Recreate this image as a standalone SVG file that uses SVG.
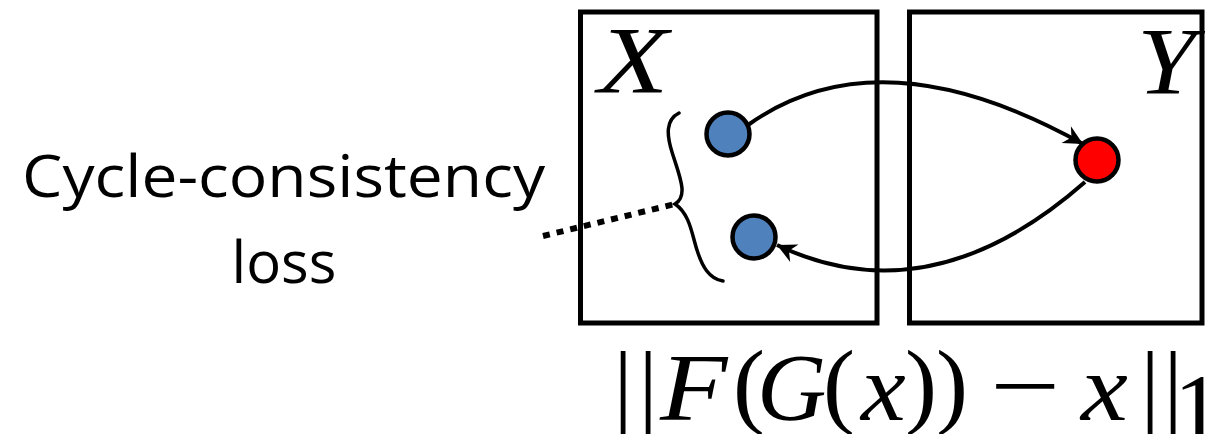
<svg xmlns="http://www.w3.org/2000/svg" width="1208" height="434" viewBox="0 0 1208 434">
<defs>
<style>
.box{fill:none;stroke:#000;stroke-width:5}
.pt{stroke:#000;stroke-width:4.5}
.conn{fill:none;stroke:#000;stroke-width:4}
.lbl{font-family:"Open Sans","Liberation Sans",sans-serif;font-size:58px;fill:#000}
.m{font-family:"Liberation Serif",serif;font-size:96px;fill:#000}
.mi{font-family:"Liberation Serif",serif;font-style:italic;font-size:96px;fill:#000}
</style>
<marker id="ah" markerUnits="userSpaceOnUse" markerWidth="24" markerHeight="24" viewBox="-18 -10 20 20" refX="0" refY="0" orient="auto">
<path d="M0,0 L-16,-8 L-11,0 L-16,8 Z" fill="#000"/>
</marker>
</defs>
<rect width="1208" height="434" fill="#fff"/>
<g id="boxX">
<rect class="box" x="580.5" y="12" width="296.5" height="311"/>
<text class="mi" transform="translate(598,93) scale(1.2,1)" x="0" y="0" font-size="80">X</text>
</g>
<g id="boxY">
<rect class="box" x="909.5" y="12" width="292.5" height="311"/>
<text class="mi" transform="translate(1137,94) scale(1.1,1)" x="0" y="0" font-size="80">Y</text>
</g>
<g id="connectors">
<path class="conn" d="M748,125 Q880,31 1083,144" marker-end="url(#ah)"/>
<path class="conn" d="M1085,182 Q930,318 777,245" marker-end="url(#ah)"/>
<path d="M543,236 L675,204" fill="none" stroke="#000" stroke-width="6" stroke-dasharray="7,7"/>
</g>
<g id="x1"><circle class="pt" cx="728" cy="134" r="21.5" fill="#4F81BD"/></g>
<g id="x2"><circle class="pt" cx="754" cy="237" r="21.5" fill="#4F81BD"/></g>
<g id="y1"><circle class="pt" cx="1097" cy="160" r="21.5" fill="#FF0000"/></g>
<g id="brace">
<path d="M679,113 C665,120 667,136 672,152 C679,175 689,196 675,204 C690,214 692,235 697,250 C702,266 709,279 723,281" fill="none" stroke="#000" stroke-width="3.5" stroke-linecap="round"/>
</g>
<g id="label">
<text class="lbl" x="22" y="197" textLength="523" lengthAdjust="spacingAndGlyphs">Cycle-consistency</text>
<text class="lbl" x="284" y="283" text-anchor="middle">loss</text>
</g>
<g id="formula">
<text class="m" x="623" y="418" text-anchor="middle">|</text>
<text class="m" x="648" y="418" text-anchor="middle">|</text>
<text class="mi" transform="translate(660,420) scale(1.15,1)" x="0" y="0">F</text>
<text class="m" x="749" y="416" font-size="110" text-anchor="middle">(</text>
<text class="mi" x="757" y="420">G</text>
<text class="m" x="839" y="416" font-size="110" text-anchor="middle">(</text>
<text class="mi" transform="translate(861,420) scale(1.05,1)" x="0" y="0">x</text>
<text class="m" x="921" y="416" font-size="110" text-anchor="middle">)</text>
<text class="m" x="952" y="416" font-size="110" text-anchor="middle">)</text>
<text class="m" transform="translate(1025,418) scale(1.3,1)" x="0" y="0" text-anchor="middle">−</text>
<text class="mi" transform="translate(1081,420) scale(1.1,1)" x="0" y="0">x</text>
<text class="m" x="1150" y="418" text-anchor="middle">|</text>
<text class="m" x="1173" y="418" text-anchor="middle">|</text>
<text class="m" x="1198" y="440" font-size="60" text-anchor="middle">1</text>
</g>
</svg>
